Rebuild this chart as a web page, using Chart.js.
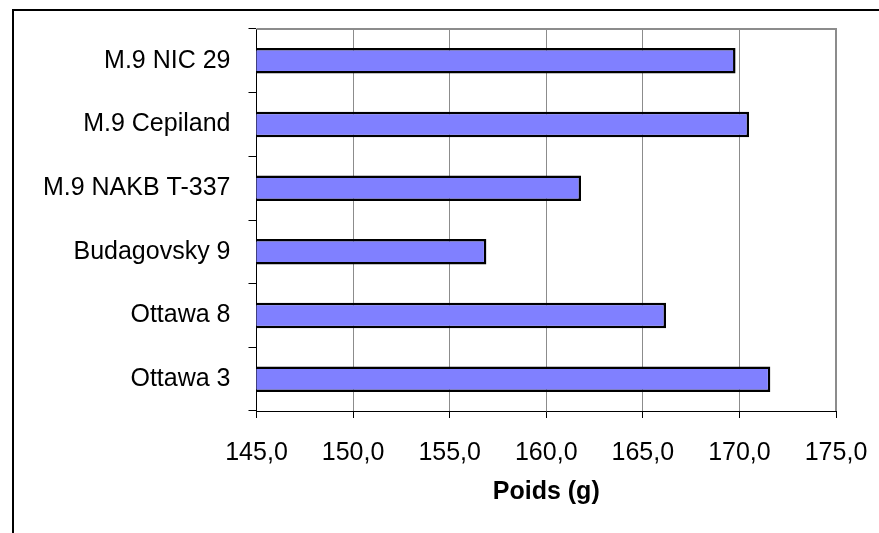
<!DOCTYPE html>
<html>
<head>
<meta charset="UTF-8">
<title>Poids (g)</title>
<script src="https://cdn.jsdelivr.net/npm/chart.js@4/dist/chart.umd.min.js"></script>
<style>
  html, body {
    margin: 0;
    padding: 0;
    background: #fff;
    overflow: hidden;
  }
  #frame {
    position: absolute;
    left: 12px;
    top: 9px;
    width: 1000px;
    height: 700px;
    border-top: 2px solid #000;
    border-left: 2px solid #000;
  }
  #chart {
    position: absolute;
    left: 0;
    top: 0;
  }
</style>
</head>
<body>
<div id="frame"></div>
<canvas id="chart" width="879" height="533"></canvas>
<script>
const categories = [
  'M.9 NIC 29',
  'M.9 Cepiland',
  'M.9 NAKB T-337',
  'Budagovsky 9',
  'Ottawa 8',
  'Ottawa 3'
];
const poids = [169.8, 170.5, 161.8, 156.9, 166.2, 171.6];
const xTickLabels = ['145,0', '150,0', '155,0', '160,0', '165,0', '170,0', '175,0'];
const xTitle = 'Poids (g)';

const FONT = "'Liberation Sans', Arial, sans-serif";
Chart.defaults.font.family = FONT;
Chart.defaults.font.size = 25;
Chart.defaults.color = '#000';

// gray frame on top and right of the plot area
const plotFrame = {
  id: 'plotFrame',
  afterDraw(chart) {
    const a = chart.chartArea;
    const ctx = chart.ctx;
    ctx.save();
    ctx.strokeStyle = '#8c8c8c';
    ctx.lineWidth = 2;
    ctx.beginPath();
    ctx.moveTo(a.left, a.top);
    ctx.lineTo(a.right, a.top);
    ctx.lineTo(a.right, a.bottom);
    ctx.stroke();
    ctx.restore();
  }
};

new Chart(document.getElementById('chart'), {
  type: 'bar',
  data: {
    labels: categories,
    datasets: [{
      data: poids,
      backgroundColor: '#8080FF',
      borderColor: '#000',
      borderWidth: 2.5,
      borderSkipped: false,
      categoryPercentage: 1,
      barPercentage: 0.4
    }]
  },
  options: {
    indexAxis: 'y',
    responsive: false,
    animation: false,
    devicePixelRatio: 1,
    layout: {
      padding: { top: 29, right: 43, bottom: 0, left: 0 }
    },
    plugins: {
      legend: { display: false },
      tooltip: { enabled: false }
    },
    scales: {
      x: {
        min: 145,
        max: 175,
        ticks: {
          stepSize: 5,
          padding: 20,
          callback: (v, i) => xTickLabels[i]
        },
        grid: {
          color: '#8c8c8c',
          tickColor: '#000',
          tickLength: 7
        },
        border: { color: '#000' },
        title: {
          display: true,
          text: xTitle,
          font: { size: 25, weight: 'bold' },
          padding: { top: 0, bottom: 26 }
        },
        afterFit(s) {
          s.height = 122;
          s.paddingLeft = 0;
          s.paddingRight = 0;
        }
      },
      y: {
        ticks: { padding: 18 },
        grid: {
          offset: true,
          drawOnChartArea: false,
          color: '#000',
          tickLength: 8
        },
        border: { color: '#000' },
        afterFit(s) {
          s.width = 256.5;
          s.paddingTop = 0;
          s.paddingBottom = 0;
        }
      }
    }
  },
  plugins: [plotFrame]
});
</script>
</body>
</html>
